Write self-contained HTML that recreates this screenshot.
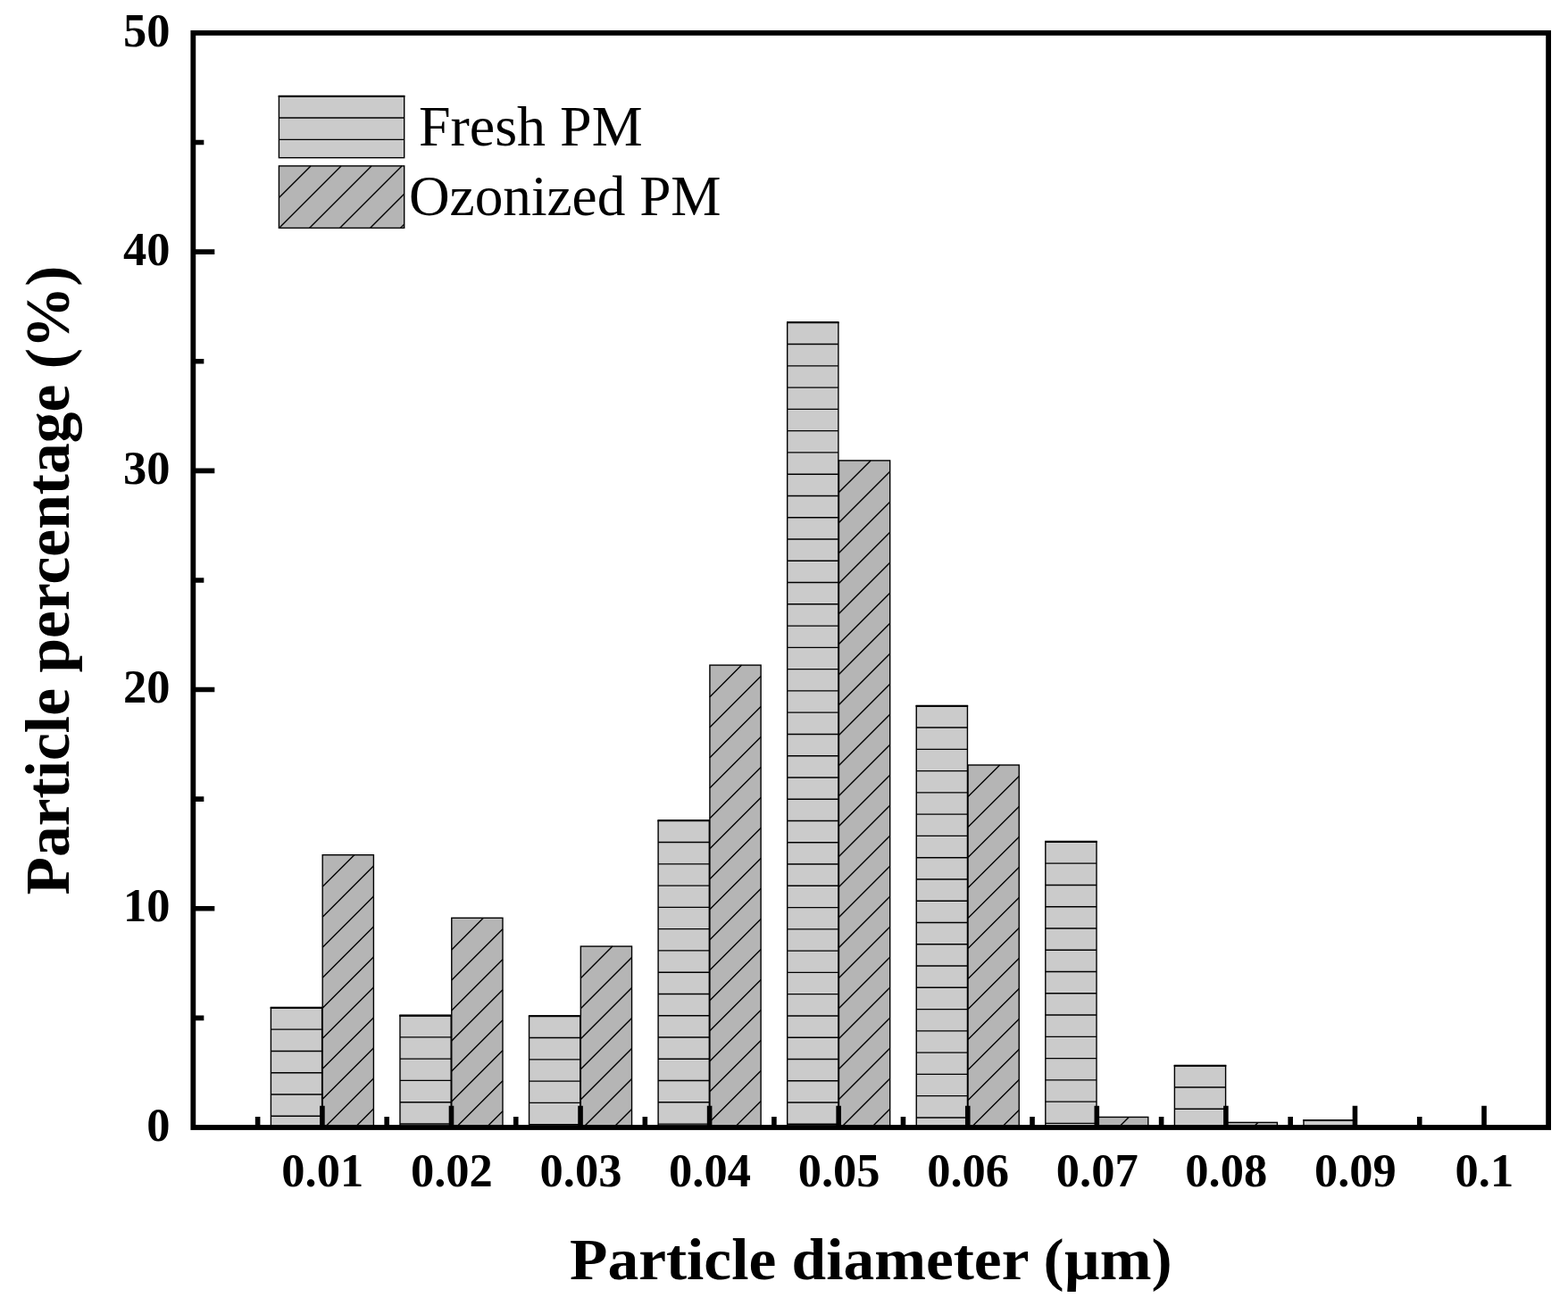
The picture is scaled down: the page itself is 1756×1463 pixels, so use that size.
<!DOCTYPE html>
<html lang="en">
<head>
<meta charset="utf-8">
<title>Particle size distribution</title>
<style>
html,body{margin:0;padding:0;background:#fff;}
body{width:1756px;height:1463px;overflow:hidden;}
svg{display:block;}
text{font-family:"Liberation Serif","DejaVu Serif",serif;fill:#000;}
.b{font-weight:bold;}
.r{font-weight:normal;}
</style>
</head>
<body>
<svg width="1756" height="1463" viewBox="0 0 1756 1463">
<rect width="1756" height="1463" fill="#fff"/>
<g>
<rect x="303.4" y="1128.9" width="57.2" height="134.1" fill="#cbcbcb" stroke="#000" stroke-width="1.4"/><path d="M303.4 1128.9H360.6M303.4 1153.17H360.6M303.4 1177.44H360.6M303.4 1201.71H360.6M303.4 1225.98H360.6M303.4 1250.25H360.6" stroke="#000" stroke-width="1.4" fill="none"/><path d="M302.7 1128.9H361.3" stroke="#000" stroke-width="2.1" fill="none"/>
<rect x="447.97" y="1137.6" width="57.2" height="125.4" fill="#cbcbcb" stroke="#000" stroke-width="1.4"/><path d="M447.97 1137.6H505.17M447.97 1161.87H505.17M447.97 1186.14H505.17M447.97 1210.41H505.17M447.97 1234.68H505.17M447.97 1258.95H505.17" stroke="#000" stroke-width="1.4" fill="none"/><path d="M447.27 1137.6H505.87" stroke="#000" stroke-width="2.1" fill="none"/>
<rect x="592.54" y="1138.3" width="57.2" height="124.7" fill="#cbcbcb" stroke="#000" stroke-width="1.4"/><path d="M592.54 1138.3H649.74M592.54 1162.57H649.74M592.54 1186.84H649.74M592.54 1211.11H649.74M592.54 1235.38H649.74M592.54 1259.65H649.74" stroke="#000" stroke-width="1.4" fill="none"/><path d="M591.84 1138.3H650.44" stroke="#000" stroke-width="2.1" fill="none"/>
<rect x="737.11" y="919.3" width="57.2" height="343.7" fill="#cbcbcb" stroke="#000" stroke-width="1.4"/><path d="M737.11 919.3H794.31M737.11 943.57H794.31M737.11 967.84H794.31M737.11 992.11H794.31M737.11 1016.38H794.31M737.11 1040.65H794.31M737.11 1064.92H794.31M737.11 1089.19H794.31M737.11 1113.46H794.31M737.11 1137.73H794.31M737.11 1162H794.31M737.11 1186.27H794.31M737.11 1210.54H794.31M737.11 1234.81H794.31M737.11 1259.08H794.31" stroke="#000" stroke-width="1.4" fill="none"/><path d="M736.41 919.3H795.01" stroke="#000" stroke-width="2.1" fill="none"/>
<rect x="881.68" y="361.3" width="57.2" height="901.7" fill="#cbcbcb" stroke="#000" stroke-width="1.4"/><path d="M881.68 361.3H938.88M881.68 385.57H938.88M881.68 409.84H938.88M881.68 434.11H938.88M881.68 458.38H938.88M881.68 482.65H938.88M881.68 506.92H938.88M881.68 531.19H938.88M881.68 555.46H938.88M881.68 579.73H938.88M881.68 604H938.88M881.68 628.27H938.88M881.68 652.54H938.88M881.68 676.81H938.88M881.68 701.08H938.88M881.68 725.35H938.88M881.68 749.62H938.88M881.68 773.89H938.88M881.68 798.16H938.88M881.68 822.43H938.88M881.68 846.7H938.88M881.68 870.97H938.88M881.68 895.24H938.88M881.68 919.51H938.88M881.68 943.78H938.88M881.68 968.05H938.88M881.68 992.32H938.88M881.68 1016.59H938.88M881.68 1040.86H938.88M881.68 1065.13H938.88M881.68 1089.4H938.88M881.68 1113.67H938.88M881.68 1137.94H938.88M881.68 1162.21H938.88M881.68 1186.48H938.88M881.68 1210.75H938.88M881.68 1235.02H938.88M881.68 1259.29H938.88" stroke="#000" stroke-width="1.4" fill="none"/><path d="M880.98 361.3H939.58" stroke="#000" stroke-width="2.1" fill="none"/>
<rect x="1026.25" y="790.8" width="57.2" height="472.2" fill="#cbcbcb" stroke="#000" stroke-width="1.4"/><path d="M1026.25 790.8H1083.45M1026.25 815.07H1083.45M1026.25 839.34H1083.45M1026.25 863.61H1083.45M1026.25 887.88H1083.45M1026.25 912.15H1083.45M1026.25 936.42H1083.45M1026.25 960.69H1083.45M1026.25 984.96H1083.45M1026.25 1009.23H1083.45M1026.25 1033.5H1083.45M1026.25 1057.77H1083.45M1026.25 1082.04H1083.45M1026.25 1106.31H1083.45M1026.25 1130.58H1083.45M1026.25 1154.85H1083.45M1026.25 1179.12H1083.45M1026.25 1203.39H1083.45M1026.25 1227.66H1083.45M1026.25 1251.93H1083.45" stroke="#000" stroke-width="1.4" fill="none"/><path d="M1025.55 790.8H1084.15" stroke="#000" stroke-width="2.1" fill="none"/>
<rect x="1170.82" y="942.9" width="57.2" height="320.1" fill="#cbcbcb" stroke="#000" stroke-width="1.4"/><path d="M1170.82 942.9H1228.02M1170.82 967.17H1228.02M1170.82 991.44H1228.02M1170.82 1015.71H1228.02M1170.82 1039.98H1228.02M1170.82 1064.25H1228.02M1170.82 1088.52H1228.02M1170.82 1112.79H1228.02M1170.82 1137.06H1228.02M1170.82 1161.33H1228.02M1170.82 1185.6H1228.02M1170.82 1209.87H1228.02M1170.82 1234.14H1228.02M1170.82 1258.41H1228.02" stroke="#000" stroke-width="1.4" fill="none"/><path d="M1170.12 942.9H1228.72" stroke="#000" stroke-width="2.1" fill="none"/>
<rect x="1315.39" y="1193.7" width="57.2" height="69.3" fill="#cbcbcb" stroke="#000" stroke-width="1.4"/><path d="M1315.39 1193.7H1372.59M1315.39 1217.97H1372.59M1315.39 1242.24H1372.59" stroke="#000" stroke-width="1.4" fill="none"/><path d="M1314.69 1193.7H1373.29" stroke="#000" stroke-width="2.1" fill="none"/>
<rect x="1459.96" y="1255" width="57.2" height="8" fill="#cbcbcb" stroke="#000" stroke-width="1.4"/><path d="M1459.96 1255H1517.16" stroke="#000" stroke-width="1.4" fill="none"/><path d="M1459.26 1255H1517.86" stroke="#000" stroke-width="2.1" fill="none"/>
<rect x="361.2" y="957.7" width="57.2" height="305.3" fill="#b5b5b5" stroke="#000" stroke-width="1.4"/><path d="M361.2 993.3L396.8 957.7M361.2 1027.3L418.4 970.1M361.2 1061.3L418.4 1004.1M361.2 1095.3L418.4 1038.1M361.2 1129.3L418.4 1072.1M361.2 1163.3L418.4 1106.1M361.2 1197.3L418.4 1140.1M361.2 1231.3L418.4 1174.1M363.5 1263L418.4 1208.1M397.5 1263L418.4 1242.1" stroke="#000" stroke-width="1.4" fill="none"/>
<rect x="505.77" y="1028.3" width="57.2" height="234.7" fill="#b5b5b5" stroke="#000" stroke-width="1.4"/><path d="M505.77 1063.9L541.37 1028.3M505.77 1097.9L562.97 1040.7M505.77 1131.9L562.97 1074.7M505.77 1165.9L562.97 1108.7M505.77 1199.9L562.97 1142.7M505.77 1233.9L562.97 1176.7M510.67 1263L562.97 1210.7M544.67 1263L562.97 1244.7" stroke="#000" stroke-width="1.4" fill="none"/>
<rect x="650.34" y="1060.1" width="57.2" height="202.9" fill="#b5b5b5" stroke="#000" stroke-width="1.4"/><path d="M650.34 1095.7L685.94 1060.1M650.34 1129.7L707.54 1072.5M650.34 1163.7L707.54 1106.5M650.34 1197.7L707.54 1140.5M650.34 1231.7L707.54 1174.5M653.04 1263L707.54 1208.5M687.04 1263L707.54 1242.5" stroke="#000" stroke-width="1.4" fill="none"/>
<rect x="794.91" y="745.1" width="57.2" height="517.9" fill="#b5b5b5" stroke="#000" stroke-width="1.4"/><path d="M794.91 780.7L830.51 745.1M794.91 814.7L852.11 757.5M794.91 848.7L852.11 791.5M794.91 882.7L852.11 825.5M794.91 916.7L852.11 859.5M794.91 950.7L852.11 893.5M794.91 984.7L852.11 927.5M794.91 1018.7L852.11 961.5M794.91 1052.7L852.11 995.5M794.91 1086.7L852.11 1029.5M794.91 1120.7L852.11 1063.5M794.91 1154.7L852.11 1097.5M794.91 1188.7L852.11 1131.5M794.91 1222.7L852.11 1165.5M794.91 1256.7L852.11 1199.5M822.61 1263L852.11 1233.5" stroke="#000" stroke-width="1.4" fill="none"/>
<rect x="939.48" y="515.9" width="57.2" height="747.1" fill="#b5b5b5" stroke="#000" stroke-width="1.4"/><path d="M939.48 551.5L975.08 515.9M939.48 585.5L996.68 528.3M939.48 619.5L996.68 562.3M939.48 653.5L996.68 596.3M939.48 687.5L996.68 630.3M939.48 721.5L996.68 664.3M939.48 755.5L996.68 698.3M939.48 789.5L996.68 732.3M939.48 823.5L996.68 766.3M939.48 857.5L996.68 800.3M939.48 891.5L996.68 834.3M939.48 925.5L996.68 868.3M939.48 959.5L996.68 902.3M939.48 993.5L996.68 936.3M939.48 1027.5L996.68 970.3M939.48 1061.5L996.68 1004.3M939.48 1095.5L996.68 1038.3M939.48 1129.5L996.68 1072.3M939.48 1163.5L996.68 1106.3M939.48 1197.5L996.68 1140.3M939.48 1231.5L996.68 1174.3M941.98 1263L996.68 1208.3M975.98 1263L996.68 1242.3" stroke="#000" stroke-width="1.4" fill="none"/>
<rect x="1084.05" y="857" width="57.2" height="406" fill="#b5b5b5" stroke="#000" stroke-width="1.4"/><path d="M1084.05 892.6L1119.65 857M1084.05 926.6L1141.25 869.4M1084.05 960.6L1141.25 903.4M1084.05 994.6L1141.25 937.4M1084.05 1028.6L1141.25 971.4M1084.05 1062.6L1141.25 1005.4M1084.05 1096.6L1141.25 1039.4M1084.05 1130.6L1141.25 1073.4M1084.05 1164.6L1141.25 1107.4M1084.05 1198.6L1141.25 1141.4M1084.05 1232.6L1141.25 1175.4M1087.65 1263L1141.25 1209.4M1121.65 1263L1141.25 1243.4" stroke="#000" stroke-width="1.4" fill="none"/>
<rect x="1228.62" y="1251.4" width="57.2" height="11.6" fill="#b5b5b5" stroke="#000" stroke-width="1.4"/><path d="M1252.62 1263L1264.22 1251.4" stroke="#000" stroke-width="1.4" fill="none"/>
<rect x="1373.19" y="1257.4" width="57.2" height="5.6" fill="#b5b5b5" stroke="#000" stroke-width="1.4"/><path d="M1403.19 1263L1408.79 1257.4" stroke="#000" stroke-width="1.4" fill="none"/>
</g>
<g>
<rect x="312.4" y="107.8" width="140.3" height="68.9" fill="#cbcbcb" stroke="#000" stroke-width="1.4"/><path d="M312.4 107.8H452.7M312.4 132.07H452.7M312.4 156.34H452.7" stroke="#000" stroke-width="1.4" fill="none"/><path d="M311.7 107.8H453.4" stroke="#000" stroke-width="2.1" fill="none"/>
<rect x="312.4" y="185.9" width="140.3" height="69.5" fill="#b5b5b5" stroke="#000" stroke-width="1.4"/><path d="M312.4 221.5L348 185.9M312.5 255.4L382 185.9M346.5 255.4L416 185.9M380.5 255.4L450 185.9M414.5 255.4L452.7 217.2M448.5 255.4L452.7 251.2" stroke="#000" stroke-width="1.4" fill="none"/>
</g>
<rect x="216.33" y="36.9" width="1517.77" height="1226.1" fill="none" stroke="#000" stroke-width="5.8"/>
<path d="M360.9 1263V1238.8M505.47 1263V1238.8M650.04 1263V1238.8M794.61 1263V1238.8M939.18 1263V1238.8M1083.75 1263V1238.8M1228.32 1263V1238.8M1372.89 1263V1238.8M1517.46 1263V1238.8M1662.03 1263V1238.8M288.62 1263V1251M433.19 1263V1251M577.75 1263V1251M722.33 1263V1251M866.89 1263V1251M1011.47 1263V1251M1156.03 1263V1251M1300.6 1263V1251M1445.17 1263V1251M1589.74 1263V1251M216.33 1017.78H240.33M216.33 772.56H240.33M216.33 527.34H240.33M216.33 282.12H240.33M216.33 1140.39H228.33M216.33 895.17H228.33M216.33 649.95H228.33M216.33 404.73H228.33M216.33 159.51H228.33" stroke="#000" stroke-width="5.6" fill="none"/>
<g class="b" font-size="52.5" text-anchor="middle">
<text x="361.3" y="1329.1">0.01</text>
<text x="505.87" y="1329.1">0.02</text>
<text x="650.44" y="1329.1">0.03</text>
<text x="795.01" y="1329.1">0.04</text>
<text x="939.58" y="1329.1">0.05</text>
<text x="1084.15" y="1329.1">0.06</text>
<text x="1228.72" y="1329.1">0.07</text>
<text x="1373.29" y="1329.1">0.08</text>
<text x="1517.86" y="1329.1">0.09</text>
<text x="1662.43" y="1329.1">0.1</text>
</g>
<g class="b" font-size="52.5" text-anchor="end">
<text x="190.45" y="1277.6">0</text>
<text x="190.45" y="1032.38">10</text>
<text x="190.45" y="787.16">20</text>
<text x="190.45" y="541.94">30</text>
<text x="190.45" y="296.72">40</text>
<text x="190.45" y="51.5">50</text>
</g>
<text class="b" font-size="69.4" text-anchor="middle" transform="translate(975.3 1432.8) scale(1 0.952)">Particle diameter (µm)</text>
<text class="b" font-size="69.5" text-anchor="middle" transform="translate(77.2 650) rotate(-90)">Particle percentage (%)</text>
<text class="r" font-size="64" x="468.9" y="163.2">Fresh PM</text>
<text class="r" font-size="64" transform="translate(457.9 241.3) scale(0.989 1)">Ozonized PM</text>
</svg>
</body>
</html>
